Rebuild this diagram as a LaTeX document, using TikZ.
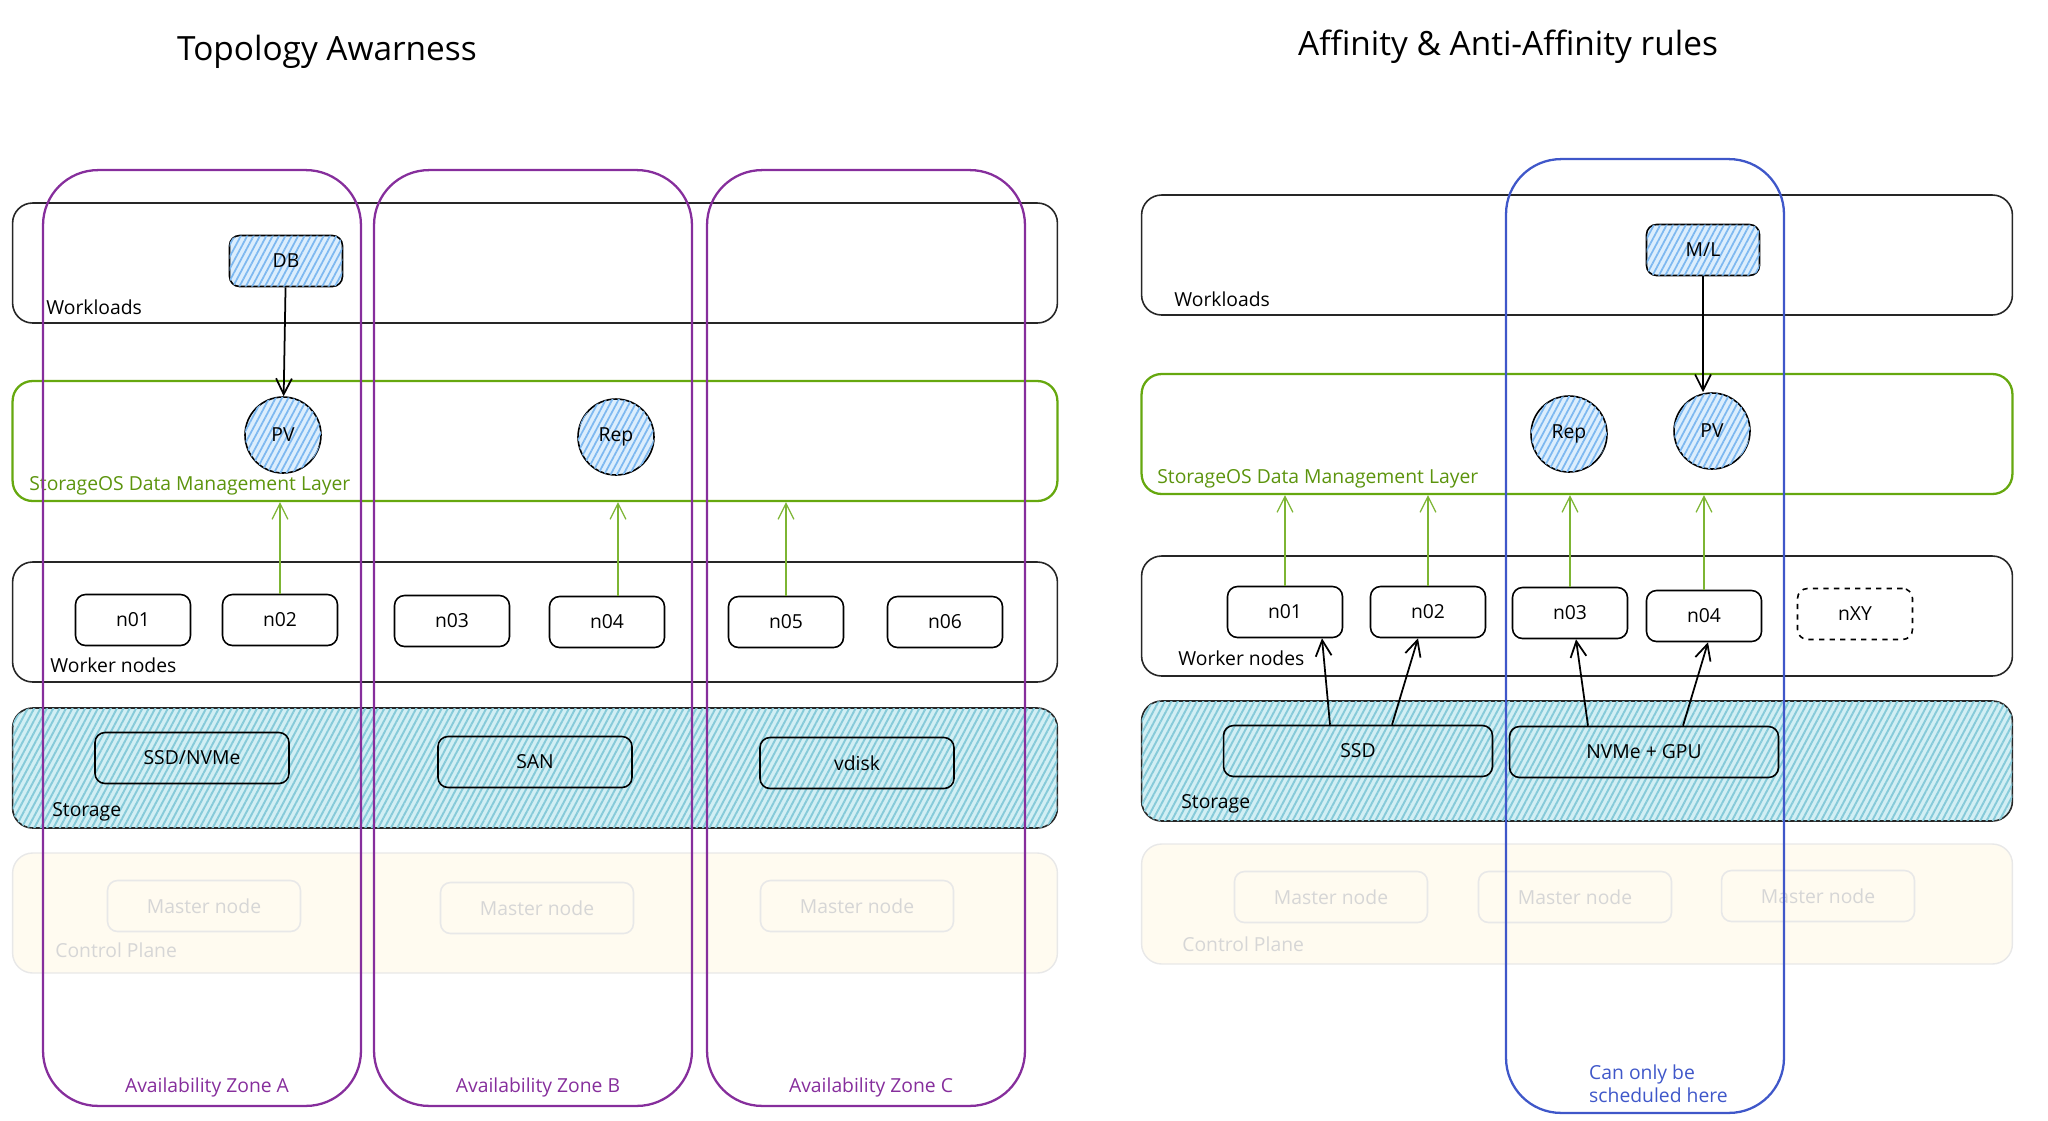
\documentclass[tikz,border=0pt]{standalone}
\usepackage{fontspec}
\setmainfont{Open Sans}
\usetikzlibrary{arrows.meta,patterns.meta,calc}

\definecolor{zonepurple}{HTML}{862E9C}
\definecolor{zoneblue}{HTML}{3F57C9}
\definecolor{dmlgreen}{HTML}{66A80F}
\definecolor{dmltext}{HTML}{5C940D}
\definecolor{storefill}{HTML}{D2EFF4}
\definecolor{storeline}{HTML}{86CAD9}
\definecolor{podfill}{HTML}{DCEEFD}
\definecolor{podline}{HTML}{7DB8F0}
\definecolor{ctrlfill}{HTML}{FFFBF0}
\definecolor{ctrlline}{HTML}{E8E8E8}
\definecolor{ctrltext}{HTML}{D6D6D6}

\tikzset{
  title/.style={font=\fontsize{19}{23}\selectfont},
  layer/.style={draw=black!85, line width=0.9pt, rounded corners=0.4cm, minimum height=2.4cm},
  dmlayer/.style={layer, draw=dmlgreen, line width=1.3pt},
  storelayer/.style={layer, fill=storefill,
    postaction={pattern={Lines[angle=62,distance=3.2pt,line width=1.1pt]}, pattern color=storeline}},
  ctrllayer/.style={layer, draw=ctrlline, fill=ctrlfill, line width=0.8pt},
  box/.style={draw, line width=0.9pt, rounded corners=0.2cm, minimum height=1.02cm, fill=white},
  worker/.style={box, minimum width=2.3cm},
  disk/.style={box, fill=none, minimum width=3.88cm},
  master/.style={box, draw=ctrlline, fill=none, text=ctrltext, minimum width=3.86cm},
  workload/.style={box, minimum width=2.26cm, fill=podfill,
    postaction={pattern={Lines[angle=62,distance=3.2pt,line width=1pt]}, pattern color=podline}},
  vol/.style={circle, draw, line width=0.9pt, minimum size=1.52cm, fill=podfill,
    postaction={pattern={Lines[angle=62,distance=3.2pt,line width=1pt]}, pattern color=podline}},
  zone/.style={draw=zonepurple, line width=1.3pt, rounded corners=1.1cm, minimum width=6.36cm, minimum height=18.72cm},
  lbl/.style={anchor=base west, inner sep=0pt},
  feed/.style={draw=dmlgreen!85, line width=0.7pt, -{Straight Barb[length=9pt,width=9pt]}},
  uses/.style={draw=black, line width=1pt, -{Straight Barb[length=9pt,width=9pt]}},
}

\begin{document}
\begin{tikzpicture}[x=0.02cm, y=-0.02cm, font=\fontsize{11}{13}\selectfont]
    \useasboundingbox (0,0) rectangle (2048,1120);

    % Titles
    \node[title] (titleL) at (327,52) {Topology Awarness};
    \node[title] (titleR) at (1508,47) {Affinity \& Anti-Affinity rules};

    % Layers
    \foreach \name/\st/\y in {workL/layer/263, dmlL/dmlayer/441, workerL/layer/622, storeL/storelayer/768, ctrlL/ctrllayer/913} {
        \node[\st, minimum width=20.9cm] (\name) at (535,\y) {};
    }
    \foreach \name/\st/\y in {workR/layer/255, dmlR/dmlayer/434, workerR/layer/616, storeR/storelayer/761, ctrlR/ctrllayer/904} {
        \node[\st, minimum width=17.42cm] (\name) at (1577,\y) {};
    }

    % Layer names
    \foreach \name/\x/\y/\col/\txt in {
        lwL/46/314/black/Workloads, ldL/29/490/dmltext/StorageOS Data Management Layer,
        lnL/50/672/black/Worker nodes, lsL/52/816/black/Storage, lcL/55/957/ctrltext/Control Plane,
        lwR/1174/306/black/Workloads, ldR/1157/483/dmltext/StorageOS Data Management Layer,
        lnR/1178/665/black/Worker nodes, lsR/1181/808/black/Storage, lcR/1182/951/ctrltext/Control Plane} {
        \node[lbl, text=\col] (\name) at (\x,\y) {\txt};
    }

    % Worker nodes
    \foreach \name/\txt/\x/\y in {n1L/n01/133/620, n2L/n02/280/620, n3L/n03/452/621, n4L/n04/607/622, n5L/n05/786/622, n6L/n06/945/622,
        n1R/n01/1285/612, n2R/n02/1428/612, n3R/n03/1570/613, n4R/n04/1704/616} {
        \node[worker] (\name) at (\x,\y) {\txt};
    }
    \node[worker, dashed] (nXY) at (1855,614) {nXY};

    % Storage
    \node[disk] (ssdL) at (192,758) {SSD/NVMe};
    \node[disk] (san) at (535,762) {SAN};
    \node[disk] (vdisk) at (857,763) {vdisk};
    \node[disk, minimum width=5.38cm] (ssdR) at (1358,751) {SSD};
    \node[disk, minimum width=5.38cm] (nvme) at (1644,752) {NVMe + GPU};

    % Control plane
    \foreach \name/\x/\y in {m1L/204/906, m2L/537/908, m3L/857/906, m1R/1331/897, m2R/1575/897, m3R/1818/896} {
        \node[master] (\name) at (\x,\y) {Master node};
    }

    % Workloads and volumes
    \node[workload] (db) at (286,261) {DB};
    \node[workload] (ml) at (1703,250) {M/L};
    \node[vol] (pvL) at (283,435) {PV};
    \node[vol] (repL) at (616,437) {Rep};
    \node[vol] (repR) at (1569,434) {Rep};
    \node[vol] (pvR) at (1712,431) {PV};

    % Connections
    \draw[uses] (db) -- (pvL);
    \draw[uses] (ml.south) -- (ml.south |- pvR.north);
    \draw[feed] (n2L.north) -- (n2L.north |- dmlL.south);
    \draw[feed] ($(n4L.north)+(11,0)$) -- ($(n4L.north |- dmlL.south)+(11,0)$);
    \draw[feed] (n5L.north) -- (n5L.north |- dmlL.south);
    \foreach \n in {n1R, n2R, n3R, n4R} {
        \draw[feed] (\n.north) -- (\n.north |- dmlR.south);
    }
    \draw[uses] ($(ssdR.north)+(-28,0)$) -- ($(n1R.south)+(37,0)$);
    \draw[uses] ($(ssdR.north)+(34,0)$) -- ($(n2R.south)+(-10,0)$);
    \draw[uses] ($(nvme.north)+(-56,0)$) -- ($(n3R.south)+(6,0)$);
    \draw[uses] ($(nvme.north)+(39,0)$) -- ($(n4R.south)+(4,0)$);

    % Availability zones
    \foreach \name/\x/\txt in {zoneA/202/A, zoneB/533/B, zoneC/866/C} {
        \node[zone] (\name) at (\x,638) {};
        \node[text=zonepurple] (lbl\txt) at (\x+5,1087) {Availability Zone \txt};
    }
    \node[zone, draw=zoneblue, minimum width=5.56cm, minimum height=19.08cm] (zoneSched) at (1645,636) {};
    \node[text=zoneblue, align=left, anchor=west] (schedTxt) at (1583,1084) {Can only be\\scheduled here};

\end{tikzpicture}
\end{document}
